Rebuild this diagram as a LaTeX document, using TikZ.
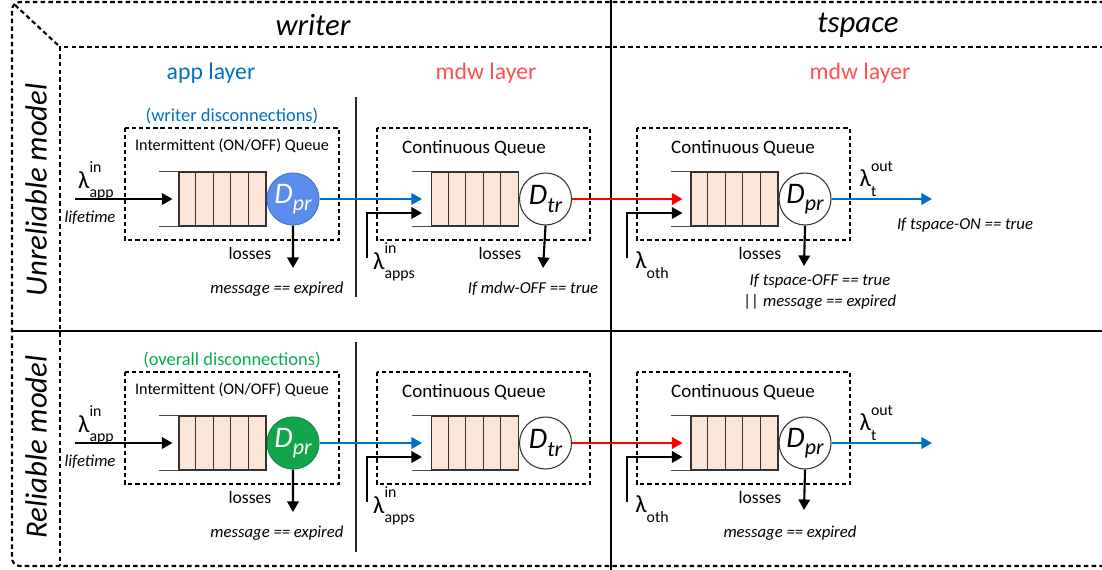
\documentclass[tikz,border=0pt]{standalone}
\usepackage{fontspec}
\setmainfont{Carlito}
\usepackage{xcolor}
\definecolor{QAppBlue}{HTML}{0070C0}
\definecolor{QMdwRed}{HTML}{FF5050}
\definecolor{QLinkRed}{HTML}{FF0000}
\definecolor{QGreen}{HTML}{00B050}
\definecolor{QSrvBlue}{HTML}{5B8DEF}
\definecolor{QSrvGreen}{HTML}{12A54A}
\definecolor{QCell}{HTML}{FBE5D6}
\usepackage{tikz}
\usetikzlibrary{arrows.meta,positioning,calc}
\newcommand{\lamsym}[2]{λ\rlap{\raisebox{1.3ex}{\fontsize{9}{9}\selectfont #1}}\rlap{\raisebox{-0.8ex}{\fontsize{9}{9}\selectfont #2}}\hphantom{\fontsize{9}{9}\selectfont #2}}
\newcommand{\srvlab}[2]{\fontsize{17}{17}\selectfont\itshape #1\raisebox{-0.5ex}{\fontsize{12.5}{12.5}\selectfont #2}}

\begin{document}
\begin{tikzpicture}[x=0.02cm,y=-0.02cm,
    frame/.style={line width=1.2pt,dash pattern=on 2.6pt off 1.8pt},
    qbox/.style={line width=1pt,dash pattern=on 2.4pt off 1.7pt},
    queue/.style={draw=black!80,line width=0.6pt,fill=QCell,minimum width=1.74cm,minimum height=1.08cm,inner sep=0pt},
    server/.style={circle,draw=black!80,line width=0.6pt,minimum size=1.04cm,inner sep=0pt},
    flow/.style={line width=1.2pt,-{Triangle[length=6pt,width=6.5pt]}},
    openl/.style={draw=black!70,line width=0.7pt},
    hdr/.style={font=\fontsize{17.5}{20}\selectfont\itshape},
    layer/.style={font=\fontsize{13.5}{16}\selectfont},
    disc/.style={font=\fontsize{10.5}{12}\selectfont},
    qname/.style={font=\fontsize{10.8}{12}\selectfont},
    iname/.style={font=\fontsize{9.2}{11}\selectfont},
    loss/.style={font=\fontsize{10}{12}\selectfont},
    cond/.style={font=\fontsize{9.5}{12}\selectfont\itshape},
    lam/.style={font=\fontsize{14}{16}\selectfont,inner sep=0pt}]
  \clip (0,0) rectangle (1102,569);
  % frame and grid
  \draw[frame,rounded corners=4.5pt] (1112,2) -- (12,2) -- (12,566) -- (1112,566);
  \draw[frame] (15,5) -- (60,47);
  \draw[frame] (1112,47) -- (60,47) -- (60,566);
  \draw[line width=1.2pt] (611,-5) -- (611,575);
  \draw[line width=1.2pt] (12,331) -- (1112,331);
  \draw[black!85,line width=0.6pt] (356,97) -- (356,297);
  \draw[black!85,line width=0.6pt] (356,342) -- (356,552);
  \node[hdr] (hWriter) at (313,25) {writer};
  \node[hdr] (hTspace) at (858,25) {tspace};
  \node[hdr,rotate=90] (hUnrel) at (36,190) {Unreliable model};
  \node[hdr,rotate=90] (hRel) at (36,447) {Reliable model};
  \node[layer,text=QAppBlue] (lApp) at (211,73) {app layer};
  \node[layer,text=QMdwRed] (lMdwW) at (486,73) {mdw layer};
  \node[layer,text=QMdwRed] (lMdwT) at (860,73) {mdw layer};
  % one row of three queues per model
  \foreach \r/\dy/\srvfill/\disc/\disccol in {u/0/QSrvBlue/writer/QAppBlue, r/244/QSrvGreen/overall/QGreen}{
    \begin{scope}[shift={(0,\dy)}]
      % app layer queue
      \draw[qbox] (125,128) rectangle (339,240);
      \node[disc,text=\disccol] (dsc\r) at (232,116) {(\disc\ disconnections)};
      \node[iname] (tA\r) at (232,146) {Intermittent (ON/OFF) Queue};
      \node[queue] (qA\r) at (222.5,199) {};
      \node[server,fill=\srvfill,draw=\srvfill!85!black,text=white,right=0pt of qA\r] (dA\r) {\srvlab{D}{pr}};
      \coordinate (inA\r) at (75,199);
      \coordinate (lsA\r) at (293,268);
      \draw[flow] (inA\r) -- ($(qA\r.west)+(-6,0)$);
      \draw[flow] (dA\r.south) -- (lsA\r);
      \node[lam] (lamA\r) at (96,181) {\lamsym{in}{app}};
      \node[cond] (life\r) at (90,218) {lifetime};
      \node[loss] (lossA\r) at (250,253) {losses};
      \node[cond] (expA\r) at (277,289) {message == expired};
      % writer mdw queue
      \draw[qbox] (377,128) rectangle (590,240);
      \node[qname] (tB\r) at (474,148) {Continuous Queue};
      \node[queue] (qB\r) at (475,199) {};
      \node[server,fill=white,right=0pt of qB\r] (dB\r) {\srvlab{D}{tr}};
      \coordinate (inB\r) at (367,258);
      \draw[flow,QAppBlue] (dA\r.east) -- ($(qB\r.west)+(-9,0)$);
      \draw[flow] (inB\r) |- ($(qB\r.west)+(-9,14)$);
      \node[lam] (lamB\r) at (394,262) {\lamsym{in}{apps}};
      % tspace mdw queue
      \draw[qbox] (637,128) rectangle (850,240);
      \node[qname] (tC\r) at (743,148) {Continuous Queue};
      \node[queue] (qC\r) at (734.5,199) {};
      \node[server,fill=white,right=0pt of qC\r] (dC\r) {\srvlab{D}{pr}};
      \coordinate (inC\r) at (627,258);
      \coordinate (lsC\r) at (804,266);
      \coordinate (out\r) at (932,199);
      \draw[flow,QLinkRed,line width=1.5pt] (dB\r.east) -- ($(qC\r.west)+(-8,0)$);
      \draw[flow] (inC\r) |- ($(qC\r.west)+(-8,14)$);
      \draw[flow] (dC\r.south) -- (lsC\r);
      \draw[flow,QAppBlue] (dC\r.east) -- (out\r);
      \node[lam] (lamC\r) at (652,265) {\lamsym{}{oth}};
      \node[lam] (lamO\r) at (868,179) {\lamsym{out}{t}};
      \node[loss] (lossC\r) at (760,253) {losses};
      \foreach \q in {A,B,C}{
        \foreach \k in {1,...,4}
          \draw[black!80,line width=0.6pt] ($(q\q\r.south west)+(17.4*\k,0)$) -- ($(q\q\r.north west)+(17.4*\k,0)$);
        \draw[openl] (q\q\r.north west) -- ++(-19,0);
        \draw[openl] (q\q\r.south west) -- ++(-19,0);
      }
    \end{scope}
  }
  % row specific losses
  \coordinate (lsBu) at (543,268);
  \draw[flow] (dBu.south) -- (lsBu);
  \node[loss] (lossBu) at (500,253) {losses};
  \node[cond] (offBu) at (533,289) {If mdw-OFF == true};
  \node[cond,align=center] (offCu) at (820,292) {If tspace-OFF == true\\|| message == expired};
  \node[cond] (onCu) at (965,225) {If tspace-ON == true};
  \node[cond] (expCr) at (790,533) {message == expired};
\end{tikzpicture}
\end{document}
